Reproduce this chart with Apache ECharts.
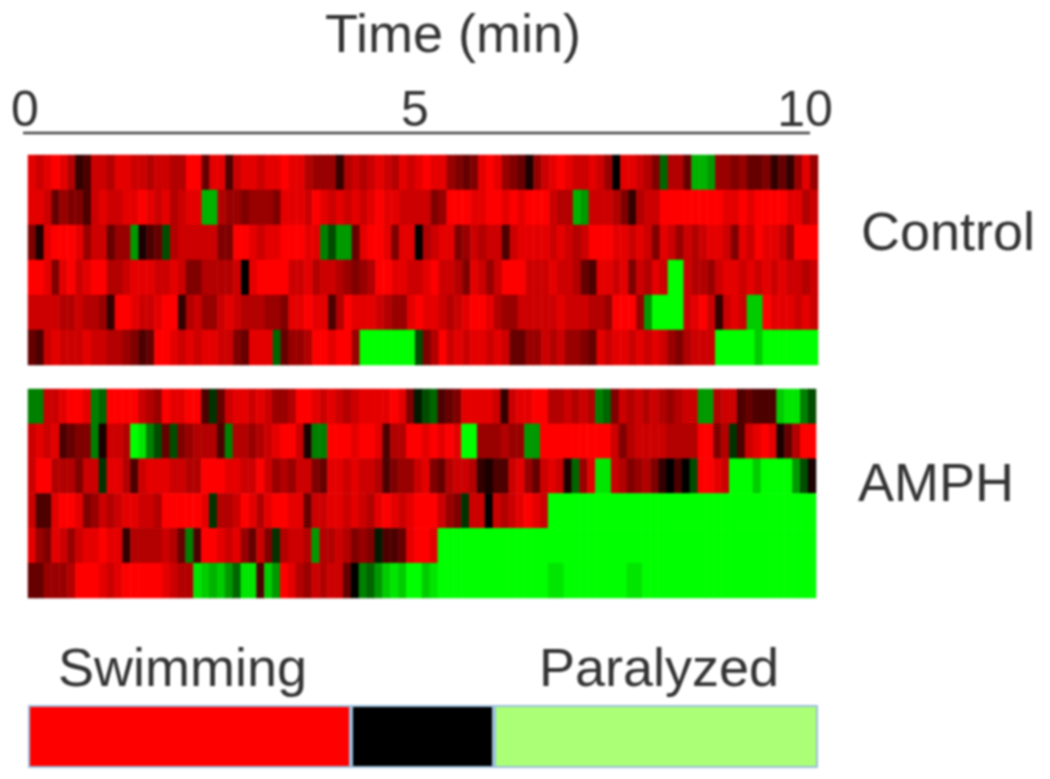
<!DOCTYPE html>
<html>
<head>
<meta charset="utf-8">
<style>
html,body{margin:0;padding:0;background:#fff}
#chart{width:1050px;height:779px;filter:blur(1px)}
</style>
<script src="https://cdn.jsdelivr.net/npm/echarts@6/dist/echarts.min.js"></script>
</head>
<body>
<div id="chart"></div>
<script>
// Activity score per 6-second bin: +10 bright red (swimming), 0 black, -10 bright green (paralyzed)
var control1 = [9,8,9,10,9,7,2,3,8,8, 7,9,9,8,8,7,8,8,7,7, 10,10,4,9,9,3,8,9,9,8, 9,9,10,9,9,7,6,6,6,2, 7,8,7,8,9,8,7,9,8,9, 10,9,9,6,5,4,5,9,10,9, 6,5,4,1,6,8,9,10,9,8, 8,9,8,6,0,9,9,8,7,5, -4,7,7,4,-7,-7,-6,6,6,5, 6,4,4,5,2,4,2,6,9,6];
var control2 = [9,9,8,4,6,5,5,3,8,9, 8,8,9,9,10,9,8,9,7,8, 9,9,-7,-7,7,6,6,5,6,6, 6,5,9,9,9,8,10,9,8,9, 8,9,8,9,10,9,9,8,8,8, 8,5,6,10,10,10,9,9,10,10, 9,10,9,10,10,10,8,7,7,-7, -6,8,8,8,7,5,2,7,8,8, 10,10,10,10,10,10,10,10,9,9, 10,9,10,10,10,10,9,9,7,8];
var control3 = [5,1,9,10,10,10,9,6,8,8, 4,6,6,-6,1,3,4,-3,7,8, 8,8,8,8,5,5,10,10,9,8, 9,9,10,10,10,9,9,-5,-3,-6, -6,4,9,10,10,9,5,9,9,0, 7,8,9,9,5,6,8,7,8,8, 3,8,9,9,9,9,8,9,8,7, 8,10,10,10,9,9,8,9,8,5, 9,8,6,8,7,8,9,9,8,5, 9,8,10,9,9,8,6,10,10,10];
var control4 = [10,10,9,5,9,10,8,9,10,10, 7,7,8,9,9,9,8,8,9,8, 5,5,7,7,7,7,8,0,9,10, 10,10,10,8,8,9,7,8,8,7, 6,5,6,7,10,10,9,9,8,8, 9,10,8,8,7,5,9,8,6,8, 10,10,10,8,8,8,9,8,8,7, 4,3,9,9,8,9,5,8,7,9, 8,-10,-10,8,7,7,6,8,9,9, 8,9,8,9,8,9,8,8,7,8];
var control5 = [8,8,8,8,7,7,8,7,7,6, 2,10,10,9,8,8,9,10,10,2, 7,8,6,6,8,9,8,7,7,7, 6,6,5,9,9,10,9,9,3,7, 10,9,9,9,8,7,6,6,9,10, 9,9,8,7,8,9,10,10,9,7, 6,6,8,8,8,8,8,9,8,8, 8,7,7,6,10,10,10,6,-6,-10, -10,-10,-10,8,9,10,8,2,8,9, 8,-8,-8,10,9,9,9,8,9,8];
var control6 = [4,3,8,9,8,8,8,9,8,8, 7,7,6,5,3,4,10,10,9,8, 9,8,9,9,8,8,5,4,9,9, 9,-4,4,6,6,7,10,10,9,10, 10,6,-10,-10,-10,-10,-10,-10,-10,-3, 5,7,10,8,9,8,9,9,8,9, 8,4,4,6,6,8,7,8,6,6, 5,4,9,8,9,9,8,9,8,9, 8,6,5,7,8,8,8,-10,-10,-10, -10,-10,-8,-10,-10,-10,-10,-10,-10,-10];

var amph1 = [-5,-5,8,8,9,10,10,9,-5,-4, 10,10,10,10,8,7,6,10,9,9, 10,10,3,-2,4,8,9,9,8,9, 8,6,6,7,10,10,9,8,9,8, 7,8,9,9,9,9,10,9,5,-1, -3,-4,3,4,5,9,9,9,9,8, 2,8,9,9,10,10,7,7,8,7, 8,7,-5,-4,5,8,7,8,7,8, 7,6,7,8,8,-6,-6,7,8,8, 3,4,3,3,3,-8,-9,-9,-5,-3];
var amph2 = [8,9,8,9,3,4,5,5,-5,1, 8,8,7,-10,-9,-5,-3,4,-3,5, 6,7,7,7,3,-5,7,7,6,7, 8,9,10,10,8,1,-5,-5,10,10, 10,9,10,10,9,3,7,7,10,10, 9,10,9,10,9,-10,-10,6,6,6, 7,6,6,-6,-6,10,10,10,10,10, 10,10,10,10,8,5,7,8,8,8, 8,7,7,7,7,10,10,5,7,-2, 3,8,9,10,9,1,4,7,10,10];
var amph3 = [8,10,10,7,7,7,5,8,8,-2, 9,9,7,3,8,9,9,9,8,8, 7,7,10,10,10,9,9,8,8,10, 8,6,7,6,8,8,5,4,9,9, 8,9,8,8,7,3,5,6,6,8, 9,5,4,7,8,8,7,2,1,3, 3,8,9,6,4,8,9,8,1,-4, 6,9,-9,-9,8,7,5,6,7,5, 2,0,3,0,-3,10,10,9,8,-10, -10,-10,-8,-10,-10,-10,-10,-6,-3,1];
var amph4 = [8,3,3,9,10,10,9,5,6,8, 7,8,9,9,8,8,7,10,10,10, 10,10,9,-2,7,7,8,10,9,7, 9,10,10,9,9,4,8,8,9,9, 8,9,8,7,9,10,9,8,9,10, 10,10,8,6,5,-2,8,8,0,8, 7,8,9,10,9,8,-10,-10,-10,-10, -10,-10,-10,-10,-10,-10,-10,-10,-10,-10, -10,-10,-10,-10,-10,-10,-10,-10,-10,-10, -10,-10,-10,-10,-10,-10,-10,-10,-10,-10];
var amph5 = [9,6,5,9,8,6,8,9,9,10, 9,9,2,7,7,7,7,8,7,4, -5,3,10,10,9,8,9,6,4,8, 5,-2,7,8,8,7,-6,7,7,8, 7,5,6,5,-1,3,3,4,9,10, 10,9,-10,-10,-10,-10,-10,-10,-10,-10, -10,-10,-10,-10,-10,-10,-10,-10,-10,-10, -10,-10,-10,-10,-10,-10,-10,-10,-10,-10, -10,-10,-10,-10,-10,-10,-10,-10,-10,-10, -10,-10,-10,-10,-10,-10,-10,-10,-10,-10];
var amph6 = [4,4,6,6,6,7,10,10,10,9, 8,9,10,10,10,10,10,9,8,7, 7,-9,-8,-7,-8,-6,-4,-9,-9,3, -8,-6,10,9,7,6,8,7,8,8, 4,0,-5,-4,-6,-8,-9,-8,-10,-10, -8,-9,-10,-10,-10,-10,-10,-10,-10,-10, -10,-10,-10,-10,-10,-10,-9,-9,-10,-10, -10,-10,-10,-10,-10,-10,-9,-9,-10,-10, -10,-10,-10,-10,-10,-10,-10,-10,-10,-10, -10,-10,-10,-10,-10,-10,-10,-10,-10,-10];

var timeTicks = [0, 5, 10];
var legendNames = ['Swimming', 'Neutral', 'Paralyzed'];
var legendSpans = [323, 143, 324];
var legendColors = ['#ff0000', '#000000', '#aaff77'];

var controlRows = [control1, control2, control3, control4, control5, control6];
var amphRows = [amph1, amph2, amph3, amph4, amph5, amph6];
var rowNames = ['1', '2', '3', '4', '5', '6'];
var binNames = control1.map(function (_, i) { return String(i); });

function cells(rows) {
  var out = [];
  rows.forEach(function (row, r) {
    row.forEach(function (v, c) { out.push([c, r, v]); });
  });
  return out;
}

var ink = '#333333';
function label(text, left, top) {
  return { text: text, left: left, top: top, padding: 0,
    textStyle: { fontFamily: 'Liberation Sans', fontSize: 54, fontWeight: 'normal', color: ink } };
}

var chart = echarts.init(document.getElementById('chart'), null, { renderer: 'canvas' });
chart.setOption({
  animation: false,
  backgroundColor: '#ffffff',
  title: [
    label('Time (min)', 325, 10),
    label('Control', 861, 208),
    label('AMPH', 858, 459),
    label('Swimming', 58, 644),
    label('Paralyzed', 539, 644)
  ],
  grid: [
    { left: 28, width: 790, top: 155, height: 210 },
    { left: 28, width: 788, top: 389, height: 209 },
    { left: 28, width: 790, top: 705, height: 63 },
    { left: 25, width: 780, top: 133, height: 1 }
  ],
  xAxis: [
    { gridIndex: 0, type: 'category', data: binNames, show: false },
    { gridIndex: 1, type: 'category', data: binNames, show: false },
    { gridIndex: 2, type: 'value', min: 0, max: 790, show: false },
    { gridIndex: 3, type: 'value', position: 'top', min: timeTicks[0], max: timeTicks[2], interval: timeTicks[1],
      axisLine: { show: false }, axisTick: { show: false }, splitLine: { show: false },
      axisLabel: { fontFamily: 'Liberation Sans', fontSize: 50, color: ink, margin: -4 } }
  ],
  yAxis: [
    { gridIndex: 0, type: 'category', data: rowNames, inverse: true, show: false },
    { gridIndex: 1, type: 'category', data: rowNames, inverse: true, show: false },
    { gridIndex: 2, type: 'category', data: ['key'], show: false },
    { gridIndex: 3, type: 'value', show: false }
  ],
  visualMap: {
    show: false, seriesIndex: [0, 1], dimension: 2, min: -10, max: 10,
    inRange: { color: ['#00ff00', '#000000', '#ff0000'] }
  },
  series: [
    { type: 'heatmap', name: 'Control', xAxisIndex: 0, yAxisIndex: 0, data: cells(controlRows), itemStyle: { borderWidth: 0 } },
    { type: 'heatmap', name: 'AMPH', xAxisIndex: 1, yAxisIndex: 1, data: cells(amphRows), itemStyle: { borderWidth: 0 } }
  ].concat(legendNames.map(function (n, i) {
    return { type: 'bar', name: n, xAxisIndex: 2, yAxisIndex: 2, stack: 'key', barWidth: '100%',
      data: [legendSpans[i]], itemStyle: { color: legendColors[i], borderColor: '#9cc0dc', borderWidth: 2 } };
  })),
  graphic: [
    { type: 'line', shape: { x1: 23, y1: 133, x2: 810, y2: 133 }, style: { stroke: '#444444', lineWidth: 2.5 } }
  ]
});
</script>
</body>
</html>
